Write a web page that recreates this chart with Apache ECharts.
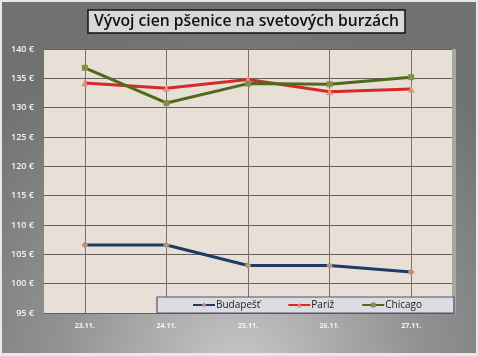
<!DOCTYPE html>
<html><head><meta charset="utf-8">
<script src="https://cdn.jsdelivr.net/npm/echarts@6/dist/echarts.min.js"></script>
<style>html,body{margin:0;padding:0;background:#fff}#c{width:478px;height:356px}</style>
</head><body><div id="c"></div>
<script>
var categories = ['23.11.', '24.11.', '25.11.', '26.11.', '27.11.'];
var budapest = [106.6, 106.6, 103.1, 103.1, 102.0];
var pariz = [134.2, 133.3, 134.8, 132.7, 133.2];
var chicago = [136.8, 130.8, 134.1, 134.0, 135.2];
var yTicks = { min: 95, max: 140, interval: 5 };

var chart = echarts.init(document.getElementById('c'), null, { renderer: 'canvas' });
chart.setOption({
  animation: false,
  backgroundColor: '#e8e8e8',
  graphic: [
    { type: 'rect', z: -10, shape: { x: 2, y: 2, width: 474, height: 351 },
      style: { fill: { type: 'radial', x: 0.5, y: 1.05, r: 1.0,
        colorStops: [{ offset: 0, color: '#c8c8c8' }, { offset: 0.5, color: '#939393' }, { offset: 1, color: '#717171' }] } } },
    { type: 'rect', z: -9, shape: { x: 452, y: 49, width: 4, height: 264 }, style: { fill: '#a8a8a8' } }
  ],
  title: {
    text: 'Vývoj cien pšenice na svetových burzách',
    left: 88, top: 10,
    backgroundColor: '#d8d8d8', borderColor: '#111', borderWidth: 1.5,
    padding: [2, 6, 2, 6],
    textStyle: { fontFamily: 'Open Sans', fontWeight: 600, fontSize: 15.7, color: '#111', lineHeight: 19 }
  },
  grid: { left: 44, right: 26, top: 49, bottom: 43, show: true, backgroundColor: '#e8e0d6', borderWidth: 0 },
  legend: {
    top: 297, left: 157,
    backgroundColor: '#dcdce3', borderColor: '#5b4a70', borderWidth: 1.2,
    padding: [3, 32, 3, 35], itemGap: 27, itemWidth: 22, itemHeight: 6,
    textStyle: { fontFamily: 'Open Sans', fontSize: 10, color: '#222', padding: [0, 0, 0, -4] },
    data: ['Budapešť', 'Pariž', 'Chicago']
  },
  xAxis: {
    type: 'category', data: categories, boundaryGap: true,
    axisLine: { show: false }, axisTick: { show: false, alignWithLabel: true },
    axisLabel: { color: '#f4f4f4', fontSize: 7, fontWeight: 'bold', fontFamily: 'Open Sans', margin: 9 },
    splitLine: { show: true, alignWithLabel: true, lineStyle: { color: '#7a7070', width: 1 } }
  },
  yAxis: {
    type: 'value', min: yTicks.min, max: yTicks.max, interval: yTicks.interval,
    axisLine: { show: false }, axisTick: { show: false },
    axisLabel: { formatter: '{value} €', color: '#f4f4f4', fontSize: 9, fontWeight: 600, fontFamily: 'Open Sans', margin: 10 },
    splitLine: { lineStyle: { color: '#6a5f5f', width: 1 } }
  },
  series: [
    { name: 'Budapešť', type: 'line', data: budapest, symbol: 'diamond', symbolSize: 7,
      lineStyle: { color: '#1f3a66', width: 3 }, itemStyle: { color: '#b8907c', borderColor: '#1f3a66', borderWidth: 0 } },
    { name: 'Pariž', type: 'line', data: pariz, symbol: 'triangle', symbolSize: 7,
      lineStyle: { color: '#d42a2a', width: 3 }, itemStyle: { color: '#e29080', borderWidth: 0 } },
    { name: 'Chicago', type: 'line', data: chicago, symbol: 'rect', symbolSize: 6,
      lineStyle: { color: '#4e6a1c', width: 3 }, itemStyle: { color: '#8c8c48', borderWidth: 0 } }
  ]
});
</script></body></html>
